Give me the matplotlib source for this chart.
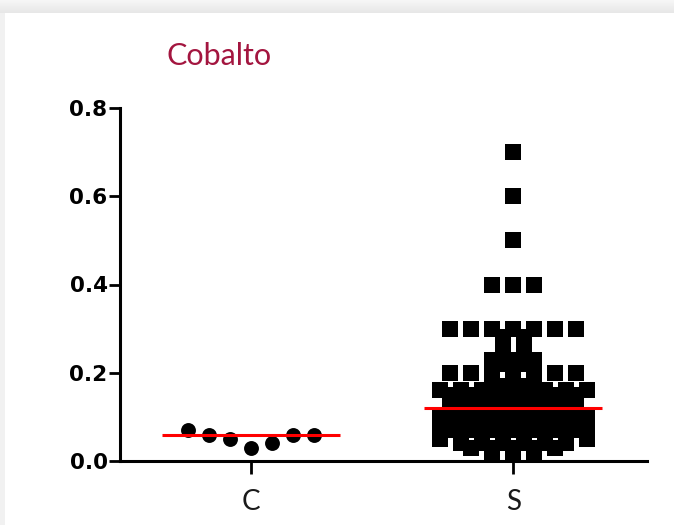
import numpy as np
import matplotlib.pyplot as plt
from matplotlib.patches import Rectangle

#%% datos
grupos = ['C', 'S']
c_vals = [0.07, 0.06, 0.05, 0.03, 0.04, 0.06, 0.06]
# S: valor -> cantidad de muestras con ese valor
s_niveles = [0.70, 0.60, 0.50, 0.40, 0.30, 0.28, 0.25, 0.23, 0.22, 0.20, 0.18, 0.17,
             0.16, 0.15, 0.14, 0.13, 0.12, 0.11, 0.10, 0.09, 0.08, 0.07, 0.06, 0.05,
             0.04, 0.03, 0.02]
s_cuentas = [1, 1, 1, 3, 7, 2, 2, 3, 2, 7, 3, 2,
             8, 7, 6, 7, 7, 5, 8, 7, 8, 7, 6, 8,
             6, 5, 3]
yticks = [0.0, 0.2, 0.4, 0.6, 0.8]
titulo = 'Cobalto'

W, H = 674, 525
paso = 0.08      # separacion horizontal entre puntos de una fila
medio_ancho = 0.34

def fila(n, x0):
    # posiciones x centradas de n puntos en una fila
    return x0 + (np.arange(n) - (n - 1) / 2) * paso

#%% figura
fig = plt.figure(figsize=(W / 100, H / 100), dpi=100)
fig.patch.set_facecolor('white')

# franja gris arriba y borde izquierdo
for i in range(13):
    g = 0.965 - 0.06 * i / 12
    fig.add_artist(Rectangle((0, 1 - (i + 1) / H), 1, 1 / H, transform=fig.transFigure,
                             color=(g, g, g), lw=0, zorder=-5))
fig.add_artist(Rectangle((0, 0), 5 / W, 1 - 13 / H, transform=fig.transFigure,
                         color='#f1f1f1', lw=0, zorder=-5))

ax = fig.add_axes([120 / W, 1 - 461 / H, 527 / W, 353 / H])
ax.set_xlim(-0.5, 1.51)
ax.set_ylim(0, 0.8)

# C: una sola fila de circulos
xc = fila(len(c_vals), 0)
ax.scatter(xc, c_vals, s=115, marker='o', color='black', lw=0, clip_on=False, zorder=3)

# S: una fila por valor, cuadrados
xs, ys = [], []
for v, n in zip(s_niveles, s_cuentas):
    xs.extend(fila(n, 1))
    ys.extend([v] * n)
ax.scatter(xs, ys, s=140, marker='s', color='black', lw=0, clip_on=False, zorder=3)

# mediana de cada grupo
s_vals = np.repeat(s_niveles, s_cuentas)
for x0, vals in zip([0, 1], [c_vals, s_vals]):
    med = np.median(vals)
    ax.plot([x0 - medio_ancho, x0 + medio_ancho], [med, med], color='red', lw=2.2,
            solid_capstyle='butt', zorder=4, clip_on=False)

for lado in ['top', 'right']:
    ax.spines[lado].set_visible(False)
for lado in ['left', 'bottom']:
    ax.spines[lado].set_linewidth(2.2)

ax.set_yticks(yticks)
ax.set_yticklabels([f'{t:.1f}' for t in yticks], fontsize=15.5, fontweight='bold',
                   family='DejaVu Sans')
ax.tick_params(axis='y', direction='out', length=8, width=2, pad=1)

ax.set_xticks([0, 1])
ax.set_xticklabels(grupos, fontsize=20, family='Lato', color='#1a1a1a')
ax.tick_params(axis='x', direction='out', length=9, width=2, pad=11)

fig.text(167 / W, 1 - 56 / H, titulo, color='#a3153f', fontsize=22, family='Lato',
         ha='left', va='center')

plt.savefig('out.png', dpi=100)
